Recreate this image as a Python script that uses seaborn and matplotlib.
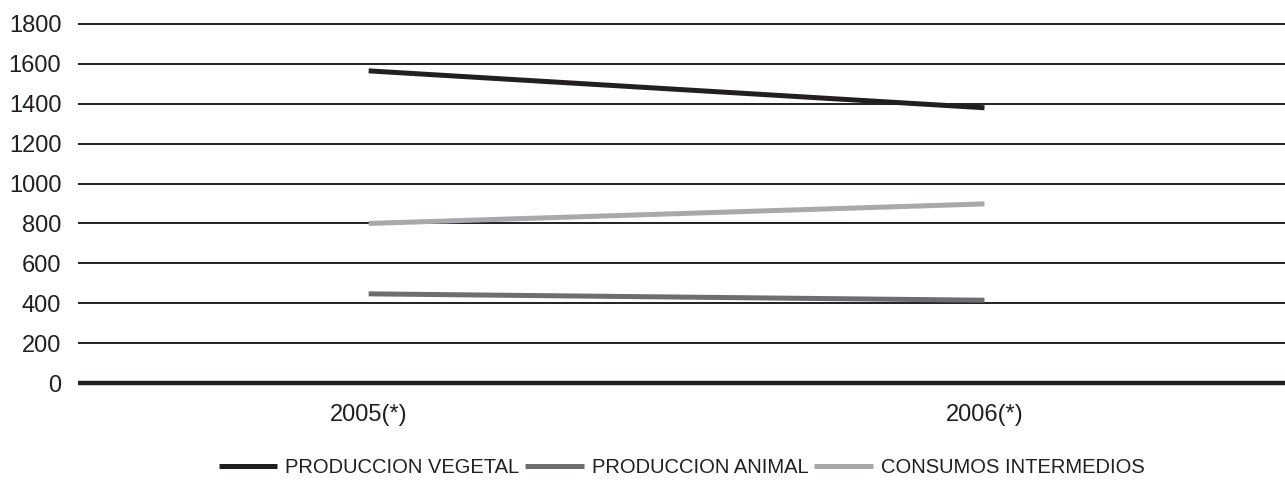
import pandas as pd
import matplotlib
matplotlib.use("Agg")
import matplotlib.pyplot as plt
import seaborn as sns

# data
years = ["2005(*)", "2006(*)"]
produccion_vegetal = [1565, 1380]
produccion_animal = [447, 415]
consumos_intermedios = [800, 898]
series_names = ["PRODUCCION VEGETAL", "PRODUCCION ANIMAL", "CONSUMOS INTERMEDIOS"]
y_ticks = [0, 200, 400, 600, 800, 1000, 1200, 1400, 1600, 1800]

rows = []
for name, vals in zip(series_names, [produccion_vegetal, produccion_animal, consumos_intermedios]):
    for yr, v in zip(years, vals):
        rows.append({"year": yr, "value": v, "series": name})
df = pd.DataFrame(rows)

sns.set_style("white")
plt.rcParams["font.family"] = ["Liberation Sans", "DejaVu Sans"]
plt.rcParams["lines.solid_capstyle"] = "butt"

fig = plt.figure(figsize=(12.85, 4.83), dpi=100)
ax = fig.add_axes([78 / 1285, 1 - 383 / 483, 1 - 78 / 1285, (383 - 24) / 483])

palette = {"PRODUCCION VEGETAL": "#231f20",
           "PRODUCCION ANIMAL": "#6d6e71",
           "CONSUMOS INTERMEDIOS": "#a7a9ac"}

# gridlines
for t in y_ticks:
    ax.axhline(t, color="#231f20", lw=3.2 if t == 0 else 1.4, zorder=1, clip_on=False)

sns.lineplot(data=df, x="year", y="value", hue="series", palette=palette,
             linewidth=3.6, ax=ax, sort=False, zorder=3)

ax.set_ylim(0, 1800)
ax.set_xlim(-0.472, 1.488)
ax.set_yticks(y_ticks)
ax.set_yticklabels([str(t) for t in y_ticks], fontsize=17, color="#231f20")
ax.tick_params(axis="x", labelsize=17, colors="#231f20", pad=15, length=0)
ax.tick_params(axis="y", length=0, pad=12)
ax.set_xlabel("")
ax.set_ylabel("")
for s in ax.spines.values():
    s.set_visible(False)

handles, labels = ax.get_legend_handles_labels()
ax.legend(handles, labels, loc="center", bbox_to_anchor=(0.5, -0.235),
          ncol=3, frameon=False, fontsize=14.5, handlelength=2.9,
          handletextpad=0.4, columnspacing=0.3, labelcolor="#231f20")

fig.savefig("out.png", dpi=100)
